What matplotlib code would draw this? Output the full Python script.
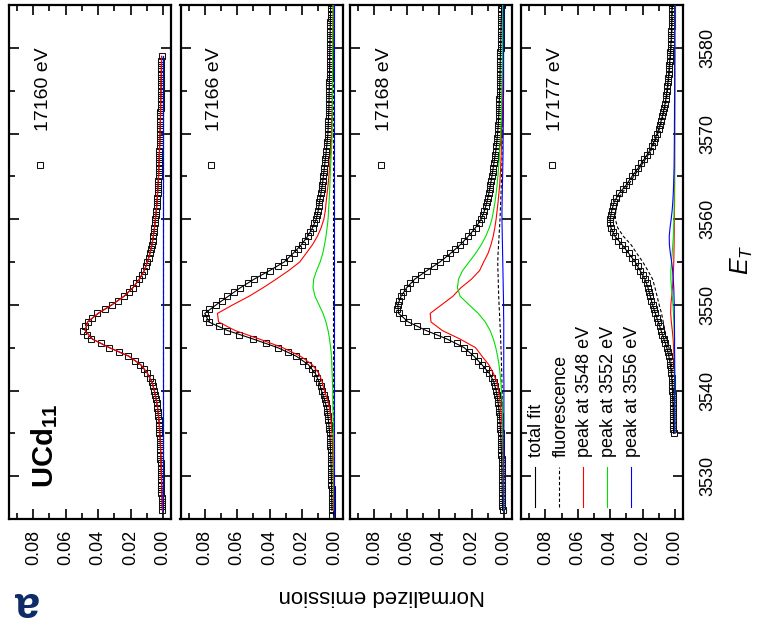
import numpy as np
import matplotlib.pyplot as plt
from matplotlib.ticker import FixedLocator, MultipleLocator

plt.rcParams['font.family'] = ['Liberation Sans', 'DejaVu Sans']
plt.rcParams['mathtext.fontset'] = 'custom'
plt.rcParams['mathtext.rm'] = 'Liberation Sans'
plt.rcParams['mathtext.it'] = 'Liberation Sans:italic'
plt.rcParams['mathtext.bf'] = 'Liberation Sans:bold'

# all emission values below are in units of 1e-3 (normalized emission)
incident = ['17160 eV', '17166 eV', '17168 eV', '17177 eV']
legend_labels = ['total fit', 'fluorescence', 'peak at 3548 eV', 'peak at 3552 eV', 'peak at 3556 eV']

# ---- panel 1 : 17160 eV (fit = single 3548 peak) ----
p1_fit_start = 3526
p1_fit = [0.3, 0.45, 0.6, 0.75, 0.9, 1.05, 1.2, 1.4, 1.6, 1.9,
          2.2, 2.7, 3.3, 4.2, 5.3, 6.8, 9.5, 13.6, 21.0, 33.0,
          43.5, 48.0, 46.5, 40.0, 31.5, 24.0, 18.5, 14.5, 11.5, 9.5,
          8.0, 6.8, 5.9, 5.2, 4.6, 4.1, 3.6, 3.3, 3.0, 2.7,
          2.5, 2.3, 2.1, 1.9, 1.8, 1.6, 1.5, 1.4, 1.3, 1.2,
          1.1, 1.0, 0.9, 0.8]
p1_flat_E = [3526, 3579]
p1_fluor = [0.0, 0.0]
p1_green = [0.0, 0.0]
p1_blue = [0.0, 0.0]
p1_data_start = 3526.0
p1_data = [0.5, 0.6, 0.7, 0.8, 0.9, 0.9, 1.0, 1.1, 1.2, 1.3,
           1.4, 1.4, 1.5, 1.6, 1.7, 1.8, 1.9, 2.0, 2.2, 2.3,
           2.5, 2.7, 3.0, 3.2, 3.5, 3.9, 4.3, 4.7, 5.3, 6.0,
           7.0, 8.2, 9.8, 11.6, 14.0, 17.5, 21.5, 27.0, 33.5, 38.0,
           44.5, 47.0, 49.5, 48.0, 46.0, 44.0, 40.5, 36.0, 31.5, 27.5,
           24.0, 21.0, 18.7, 16.5, 14.7, 13.0, 11.7, 10.5, 9.6, 8.7,
           8.0, 7.4, 6.8, 6.3, 5.9, 5.5, 5.2, 4.9, 4.6, 4.3,
           4.1, 3.8, 3.6, 3.4, 3.3, 3.1, 3.0, 2.8, 2.7, 2.6,
           2.5, 2.4, 2.3, 2.2, 2.1, 2.0, 1.9, 1.9, 1.8, 1.7,
           1.6, 1.6, 1.5, 1.5, 1.4, 1.4, 1.3, 1.3, 1.2, 1.2,
           1.1, 1.1, 1.0, 1.0, 0.9, 0.9, 0.8]

# ---- panel 2 : 17166 eV ----
p2_fit_start = 3526
p2_total = [1.5, 1.6, 1.7, 1.8, 1.9, 2.0, 2.2, 2.4, 2.6, 2.9,
            3.4, 4.0, 4.8, 6.2, 8.0, 9.5, 11.8, 16.0, 23.5, 35.0,
            50.0, 66.0, 77.5, 80.0, 73.0, 65.5, 58.0, 49.5, 40.0, 31.0,
            25.5, 20.5, 16.5, 13.5, 11.2, 10.0, 9.2, 8.3, 7.5, 6.8,
            6.2, 5.6, 5.0, 4.5, 4.0, 3.8, 3.6, 3.4, 3.3, 3.2,
            3.1, 3.0, 2.9, 2.9, 2.8, 2.7, 2.6, 2.5, 2.4, 2.3]
p2_red = [0.5, 0.6, 0.6, 0.7, 0.8, 0.8, 1.0, 1.1, 1.3, 1.5,
          1.9, 2.4, 3.1, 4.4, 6.2, 7.5, 9.6, 13.6, 20.9, 31.9,
          46.2, 61.3, 71.5, 72.2, 62.7, 52.7, 44.0, 35.9, 28.2, 21.4,
          17.5, 13.6, 10.5, 8.2, 6.5, 5.6, 5.1, 4.5, 3.9, 3.4,
          3.0, 2.7, 2.3, 2.1, 1.8, 1.6, 1.5, 1.3, 1.3, 1.2,
          1.1, 1.1, 1.0, 1.0, 1.0, 0.9, 0.8, 0.7, 0.7, 0.6]
p2_green = [0.2, 0.2, 0.3, 0.3, 0.3, 0.4, 0.4, 0.5, 0.5, 0.6,
            0.7, 0.8, 0.9, 1.0, 1.0, 1.2, 1.4, 1.6, 1.8, 2.3,
            3.0, 3.9, 5.2, 7.0, 9.5, 12.0, 13.2, 12.8, 11.0, 8.8,
            7.2, 6.1, 5.2, 4.5, 3.9, 3.6, 3.3, 3.0, 2.8, 2.6,
            2.4, 2.1, 1.9, 1.6, 1.4, 1.4, 1.3, 1.3, 1.2, 1.2,
            1.2, 1.1, 1.1, 1.1, 1.0, 1.0, 1.0, 1.0, 0.9, 0.9]
p2_flat_E = [3525.5, 3585]
p2_fluor = [0.8, 0.8]
p2_blue = [0.0, 0.0]
p2_data_start = 3525.5
p2_data = [1.4, 1.5, 1.5, 1.6, 1.6, 1.7, 1.7, 1.8, 1.8, 1.9,
           2.0, 2.0, 2.1, 2.2, 2.3, 2.4, 2.5, 2.6, 2.8, 2.9,
           3.1, 3.4, 3.7, 4.0, 4.3, 4.8, 5.3, 6.0, 6.6, 7.5,
           8.4, 9.3, 10.5, 12.0, 13.6, 16.0, 19.5, 23.5, 28.5, 35.0,
           42.0, 50.0, 58.6, 66.0, 71.5, 77.4, 79.0, 80.0, 77.5, 73.0,
           69.5, 66.0, 62.0, 58.5, 53.5, 49.5, 44.0, 40.0, 35.0, 31.0,
           28.0, 25.0, 22.5, 20.2, 18.3, 16.5, 15.0, 13.5, 12.3, 11.2,
           10.6, 10.0, 9.6, 9.2, 8.7, 8.3, 7.9, 7.5, 7.1, 6.8,
           6.5, 6.2, 5.9, 5.6, 5.3, 5.0, 4.7, 4.5, 4.2, 4.0,
           3.9, 3.8, 3.7, 3.6, 3.5, 3.4, 3.4, 3.3, 3.2, 3.2,
           3.1, 3.1, 3.0, 3.0, 2.9, 2.9, 2.9, 2.9, 2.8, 2.8,
           2.7, 2.7, 2.6, 2.6, 2.5, 2.5, 2.4, 2.4, 2.3, 2.3]

# ---- panel 3 : 17168 eV ----
p3_fit_start = 3526
p3_total = [0.8, 0.9, 1.0, 1.1, 1.2, 1.3, 1.4, 1.6, 1.8, 2.0,
            2.3, 2.7, 3.2, 3.9, 4.8, 6.2, 9.0, 13.5, 18.5, 24.5,
            35.0, 48.0, 59.0, 65.0, 65.5, 63.5, 60.0, 55.0, 47.5, 39.5,
            33.0, 27.0, 22.0, 17.5, 14.0, 12.0, 10.5, 9.3, 8.3, 7.4,
            6.6, 5.8, 5.0, 4.4, 3.9, 3.5, 3.2, 3.0, 2.8, 2.6,
            2.5, 2.4, 2.3, 2.2, 2.0, 1.9, 1.8, 1.7, 1.5, 1.4]
p3_red = [0.3, 0.3, 0.4, 0.4, 0.5, 0.5, 0.6, 0.7, 0.8, 1.0,
          1.2, 1.6, 2.0, 2.6, 3.3, 4.4, 6.5, 9.3, 13.5, 17.5,
          27.0, 38.0, 45.0, 45.5, 38.5, 31.5, 26.5, 20.0, 15.0, 12.5,
          9.8, 8.0, 6.6, 5.6, 4.8, 4.2, 3.6, 3.1, 2.6, 2.3,
          2.0, 1.8, 1.6, 1.4, 1.3, 1.2, 1.1, 1.0, 0.9, 0.9,
          0.8, 0.8, 0.7, 0.7, 0.6, 0.6, 0.6, 0.5, 0.5, 0.5]
p3_green = [0.2, 0.2, 0.2, 0.3, 0.3, 0.3, 0.4, 0.4, 0.5, 0.6,
            0.7, 0.8, 1.0, 1.2, 1.5, 1.9, 2.4, 3.0, 3.9, 5.0,
            6.5, 8.5, 11.5, 15.8, 21.5, 27.0, 28.7, 28.0, 25.5, 21.5,
            17.5, 14.0, 11.2, 9.0, 7.4, 6.4, 5.5, 4.8, 4.2, 3.7,
            3.3, 2.9, 2.6, 2.3, 2.0, 1.8, 1.6, 1.5, 1.4, 1.3,
            1.2, 1.1, 1.0, 1.0, 0.9, 0.9, 0.8, 0.8, 0.7, 0.7]
p3_fluor = [0.4, 0.4, 0.5, 0.5, 0.5, 0.6, 0.6, 0.7, 0.7, 0.8,
            0.8, 0.9, 0.9, 1.0, 1.0, 1.2, 1.3, 1.5, 1.6, 1.8,
            2.0, 2.2, 2.5, 2.7, 3.0, 3.2, 3.4, 3.5, 3.7, 3.8,
            3.6, 3.3, 3.0, 2.7, 2.4, 2.2, 2.0, 1.8, 1.6, 1.5,
            1.3, 1.2, 1.1, 1.0, 0.9, 0.8, 0.8, 0.7, 0.7, 0.6,
            0.6, 0.5, 0.5, 0.5, 0.4, 0.4, 0.4, 0.4, 0.3, 0.3]
p3_blue = [0.0, 0.0, 0.0, 0.0, 0.0, 0.0, 0.0, 0.0, 0.0, 0.0,
           0.0, 0.0, 0.0, 0.0, 0.0, 0.0, 0.1, 0.1, 0.1, 0.1,
           0.1, 0.1, 0.1, 0.2, 0.2, 0.3, 0.4, 0.5, 0.6, 0.7,
           0.8, 0.9, 1.0, 1.1, 1.2, 1.2, 1.1, 1.0, 0.9, 0.8,
           0.7, 0.6, 0.5, 0.5, 0.4, 0.4, 0.3, 0.3, 0.3, 0.2,
           0.2, 0.2, 0.2, 0.2, 0.2, 0.1, 0.1, 0.1, 0.1, 0.1]
p3_data_start = 3526.0
p3_data = [0.8, 0.9, 0.9, 1.0, 1.0, 1.1, 1.1, 1.2, 1.2, 1.3,
           1.3, 1.4, 1.4, 1.5, 1.6, 1.7, 1.8, 1.9, 2.0, 2.1,
           2.3, 2.5, 2.7, 2.9, 3.2, 3.5, 3.9, 4.3, 4.8, 5.3,
           6.2, 7.4, 9.0, 11.0, 13.5, 16.0, 18.5, 21.5, 24.5, 29.0,
           35.0, 41.5, 48.0, 53.5, 59.0, 62.0, 65.0, 66.0, 65.5, 64.8,
           63.5, 62.0, 60.0, 57.8, 55.0, 51.3, 47.5, 43.3, 39.5, 36.0,
           33.0, 30.0, 27.0, 24.4, 22.0, 19.7, 17.5, 15.6, 14.0, 13.0,
           12.0, 11.2, 10.5, 9.9, 9.3, 8.8, 8.3, 7.8, 7.4, 7.0,
           6.6, 6.2, 5.8, 5.4, 5.0, 4.7, 4.4, 4.1, 3.9, 3.7,
           3.5, 3.3, 3.2, 3.1, 3.0, 2.9, 2.8, 2.7, 2.6, 2.5,
           2.5, 2.4, 2.4, 2.3, 2.3, 2.2, 2.2, 2.1, 2.0, 2.0,
           1.9, 1.8, 1.8, 1.7, 1.7, 1.6, 1.5, 1.5, 1.4]

# ---- panel 4 : 17177 eV ----
p4_fit_start = 3535
p4_total = [0.8, 0.9, 1.0, 1.1, 1.3, 1.5, 1.8, 2.2, 2.8, 3.7,
            5.0, 6.8, 8.5, 10.3, 12.1, 13.8, 15.2, 16.6, 18.5, 21.5,
            24.5, 28.5, 32.5, 37.0, 39.5, 40.0, 39.0, 37.5, 34.5, 30.0,
            26.5, 22.5, 19.0, 15.5, 13.0, 11.0, 9.2, 7.8, 6.6, 5.6,
            4.9, 4.3, 3.8, 3.4, 3.0, 2.6, 2.3, 2.1, 2.0, 1.9,
            1.8]
p4_fluor = [0.6, 0.7, 0.75, 0.85, 1.0, 1.2, 1.4, 1.7, 2.15, 2.7,
            3.7, 5.1, 6.15, 7.2, 8.25, 9.7, 11.0, 12.3, 13.8, 16.7,
            19.8, 23.5, 27.0, 31.8, 35.3, 36.8, 36.5, 35.5, 32.9, 28.7,
            25.4, 21.6, 18.2, 14.8, 12.4, 10.5, 8.75, 7.4, 6.2, 5.25,
            4.6, 4.0, 3.5, 3.1, 2.7, 2.35, 2.05, 1.85, 1.75, 1.65,
            1.55]
p4_red = [0.1, 0.1, 0.1, 0.15, 0.15, 0.2, 0.25, 0.3, 0.4, 0.6,
          0.8, 1.1, 1.6, 2.2, 2.6, 2.5, 2.0, 1.5, 1.2, 0.9,
          0.7, 0.6, 0.5, 0.45, 0.4, 0.3, 0.25, 0.2, 0.2, 0.15,
          0.15, 0.1, 0.1, 0.1, 0.1, 0.1, 0.1, 0.05, 0.05, 0.05,
          0.05, 0.05, 0.05, 0.05, 0.05, 0.05, 0.05, 0.05, 0.05, 0.05,
          0.05]
p4_green = [0.05, 0.05, 0.05, 0.1, 0.1, 0.1, 0.1, 0.15, 0.2, 0.25,
            0.3, 0.4, 0.5, 0.6, 0.9, 1.2, 1.6, 2.1, 2.5, 2.5,
            2.1, 1.7, 1.3, 0.95, 0.75, 0.6, 0.5, 0.45, 0.4, 0.35,
            0.3, 0.25, 0.2, 0.2, 0.15, 0.15, 0.1, 0.1, 0.1, 0.1,
            0.1, 0.1, 0.1, 0.1, 0.1, 0.1, 0.1, 0.1, 0.1, 0.1,
            0.1]
p4_blue = [0.05, 0.05, 0.05, 0.05, 0.1, 0.1, 0.1, 0.1, 0.15, 0.15,
           0.2, 0.2, 0.25, 0.3, 0.35, 0.4, 0.55, 0.7, 1.0, 1.4,
           2.0, 2.8, 3.4, 3.5, 3.0, 2.3, 1.7, 1.3, 1.0, 0.8,
           0.65, 0.5, 0.45, 0.4, 0.35, 0.3, 0.3, 0.25, 0.25, 0.2,
           0.15, 0.15, 0.15, 0.15, 0.1, 0.1, 0.1, 0.1, 0.1, 0.1,
           0.1]
p4_data_start = 3535.0
p4_data = [0.8, 0.9, 0.9, 1.0, 1.0, 1.1, 1.1, 1.2, 1.3, 1.4,
           1.5, 1.6, 1.8, 2.0, 2.2, 2.5, 2.8, 3.2, 3.7, 4.3,
           5.0, 5.9, 6.8, 7.7, 8.5, 9.4, 10.3, 11.2, 12.1, 13.0,
           13.8, 14.5, 15.2, 15.9, 16.6, 17.5, 18.5, 20.0, 21.5, 23.0,
           24.5, 26.5, 28.5, 30.5, 32.5, 35.0, 37.0, 38.5, 39.5, 40.0,
           40.0, 39.7, 39.0, 38.3, 37.5, 36.2, 34.5, 32.3, 30.0, 28.2,
           26.5, 24.5, 22.5, 20.7, 19.0, 17.2, 15.5, 14.2, 13.0, 12.0,
           11.0, 10.1, 9.2, 8.5, 7.8, 7.2, 6.6, 6.1, 5.6, 5.2,
           4.9, 4.6, 4.3, 4.0, 3.8, 3.6, 3.4, 3.2, 3.0, 2.8,
           2.6, 2.4, 2.3, 2.2, 2.1, 2.0, 2.0, 1.9, 1.9, 1.8,
           1.8]


def grid(start, values, step=1.0):
    return start + step * np.arange(len(values))


def e(values):
    return np.asarray(values) * 1e-3


RED = '#ff0000'
GREEN = '#00e000'
BLUE = '#0000ff'

fig = plt.figure(figsize=(7.61, 6.29), dpi=100)
W, H = 761.0, 629.0
lefts = [9, 180.5, 350, 521]
axes = [fig.add_axes([l / W, 110 / H, 162 / W, 514 / H]) for l in lefts]

panels = [
    dict(data=(grid(p1_data_start, p1_data, 0.5), p1_data),
         total=(grid(p1_fit_start, p1_fit), p1_fit),
         fluor=(p1_flat_E, p1_fluor),
         red=(grid(p1_fit_start, p1_fit), p1_fit),
         green=(p1_flat_E, p1_green),
         blue=(p1_flat_E, p1_blue)),
    dict(data=(grid(p2_data_start, p2_data, 0.5), p2_data),
         total=(grid(p2_fit_start, p2_total), p2_total),
         fluor=(p2_flat_E, p2_fluor),
         red=(grid(p2_fit_start, p2_red), p2_red),
         green=(grid(p2_fit_start, p2_green), p2_green),
         blue=(p2_flat_E, p2_blue)),
    dict(data=(grid(p3_data_start, p3_data, 0.5), p3_data),
         total=(grid(p3_fit_start, p3_total), p3_total),
         fluor=(grid(p3_fit_start, p3_fluor), p3_fluor),
         red=(grid(p3_fit_start, p3_red), p3_red),
         green=(grid(p3_fit_start, p3_green), p3_green),
         blue=(grid(p3_fit_start, p3_blue), p3_blue)),
    dict(data=(grid(p4_data_start, p4_data, 0.5), p4_data),
         total=(grid(p4_fit_start, p4_total), p4_total),
         fluor=(grid(p4_fit_start, p4_fluor), p4_fluor),
         red=(grid(p4_fit_start, p4_red), p4_red),
         green=(grid(p4_fit_start, p4_green), p4_green),
         blue=(grid(p4_fit_start, p4_blue), p4_blue)),
]

line_styles = {
    'total': dict(color='black', lw=0.8),
    'fluor': dict(color='black', lw=0.8, ls=(0, (3, 2))),
    'red': dict(color=RED, lw=0.8),
    'green': dict(color=GREEN, lw=0.8),
    'blue': dict(color=BLUE, lw=0.8),
}

for ax, pan, label in zip(axes, panels, incident):
    # the figure is drawn rotated: emission runs horizontally, E_T vertically
    E, v = pan['data']
    ax.plot(e(v), E, ls='none', marker='s', ms=4.2, mfc='none', mec='#111111', mew=0.75, zorder=2)
    for key in ['total', 'fluor', 'red', 'green', 'blue']:
        E, v = pan[key]
        ax.plot(e(v), E, zorder=3, **line_styles[key])

    ax.set_xlim(0.095, -0.005)
    ax.set_ylim(3525, 3585)
    ax.xaxis.set_major_locator(FixedLocator([0.0, 0.02, 0.04, 0.06, 0.08]))
    ax.xaxis.set_minor_locator(FixedLocator([0.01, 0.03, 0.05, 0.07, 0.09]))
    ax.set_xticklabels(['0.00', '0.02', '0.04', '0.06', '0.08'])
    ax.yaxis.set_major_locator(MultipleLocator(10))
    ax.yaxis.set_minor_locator(MultipleLocator(5))
    ax.tick_params(which='both', direction='in', top=True, bottom=True,
                   left=True, right=True, width=1.2, color='black')
    ax.tick_params(which='major', length=7.5)
    ax.tick_params(which='minor', length=4)
    ax.tick_params(axis='x', labelrotation=90, labelsize=13, pad=7.5)
    ax.tick_params(axis='y', labelleft=False, labelright=False)
    for s in ax.spines.values():
        s.set_linewidth(1.6)

    # data legend: marker + incident energy
    ax.plot(0.19, 0.689, transform=ax.transAxes, marker='s', ms=4.2,
            mfc='none', mec='#111111', mew=0.75)
    ax.text(0.21, 0.755, label, transform=ax.transAxes, rotation=90,
            ha='center', va='bottom', fontsize=14)

# E_T labels only on the right panel
ax4 = axes[3]
ax4.tick_params(axis='y', labelright=True, labelrotation=90, labelsize=13, pad=12)
for t in ax4.get_yticklabels():
    t.set_verticalalignment('center')

axes[0].text(0.22, 0.06, r'$\mathbf{UCd_{11}}$', transform=axes[0].transAxes,
             rotation=90, ha='center', va='bottom', fontsize=21)

# component legend in the last panel
leg_styles = ['total', 'fluor', 'red', 'green', 'blue']
leg_x = [0.086, 0.236, 0.383, 0.531, 0.679]
for lx, key, text in zip(leg_x, leg_styles, legend_labels):
    st = dict(line_styles[key])
    ax4.plot([lx, lx], [0.023, 0.101], transform=ax4.transAxes, **st)
    ax4.text(lx + 0.012, 0.12, text, transform=ax4.transAxes, rotation=90,
             ha='center', va='bottom', fontsize=13)

fig.text(382 / W, 1 - 595 / H, 'Normalized emission', rotation=180,
         ha='center', va='center', fontsize=16)
fig.text(742 / W, 1 - 260 / H, r'$E_T$', rotation=90,
         ha='center', va='center', fontsize=18)
fig.text(25 / W, 1 - 603 / H, 'a', rotation=180, ha='center', va='center',
         fontsize=32, fontweight='bold', color='#0c2a66')

fig.savefig('out.png', dpi=100)
